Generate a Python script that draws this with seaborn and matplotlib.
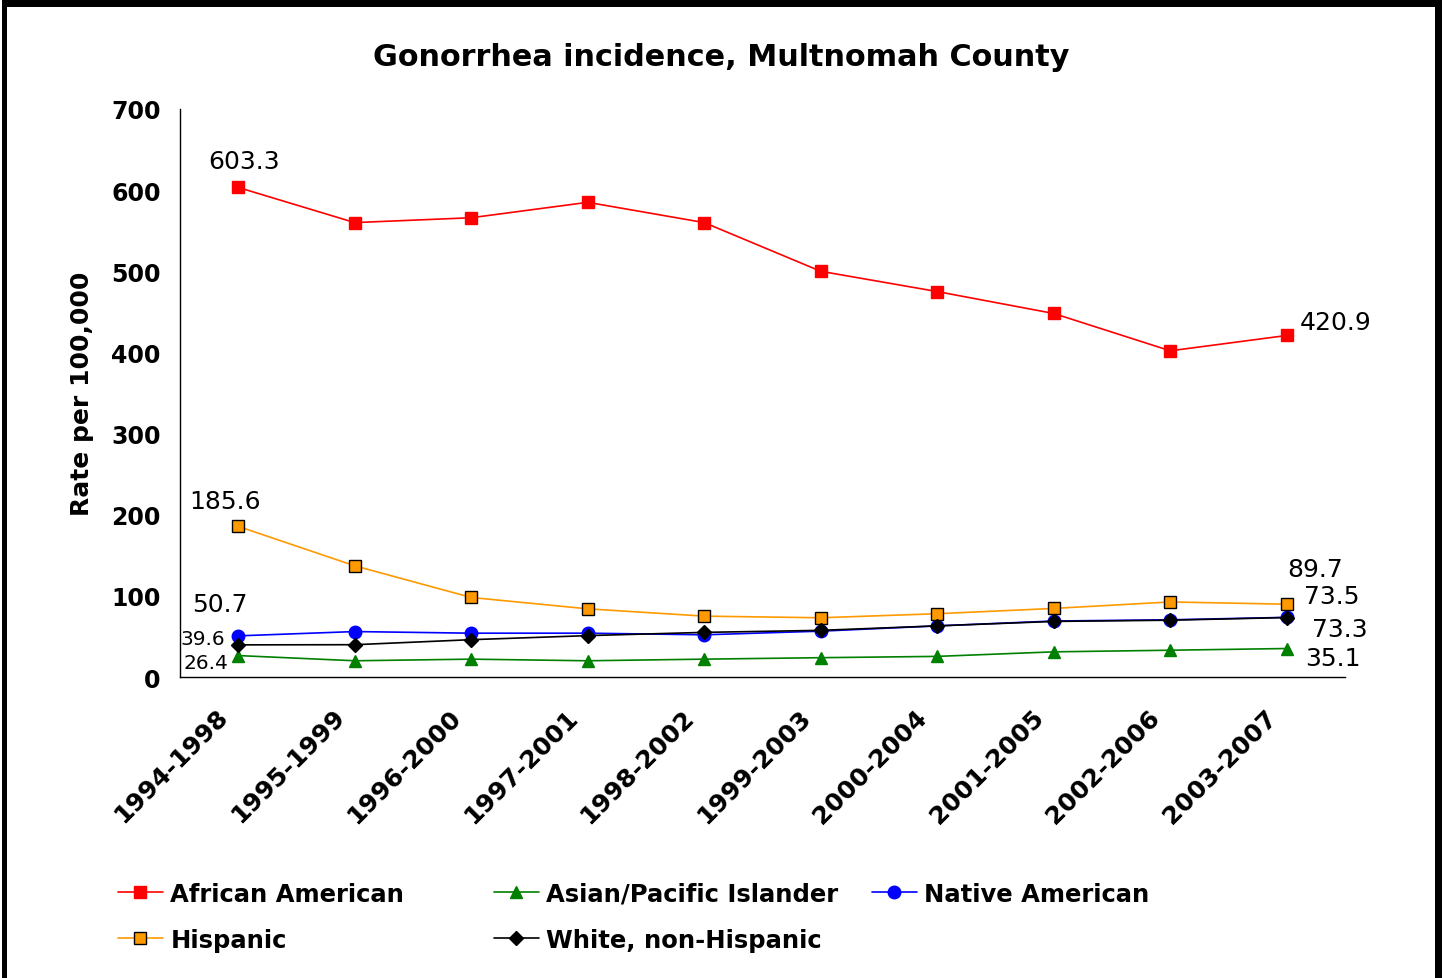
import matplotlib
matplotlib.use("Agg")
import matplotlib.pyplot as plt
import matplotlib.patches as mpatches
import matplotlib.transforms as mtransforms
import seaborn as sns
import numpy as np

periods = ["1994-1998", "1995-1999", "1996-2000", "1997-2001", "1998-2002",
           "1999-2003", "2000-2004", "2001-2005", "2002-2006", "2003-2007"]
african_american = [603.3, 560, 566, 585, 560, 500, 475, 448, 402, 420.9]
hispanic = [185.6, 137, 98, 84, 75, 73, 78, 84.5, 92.5, 89.7]
native_american = [50.7, 56, 54, 54, 52, 56.5, 63, 69, 70.5, 73.5]
white_non_hispanic = [39.6, 39.8, 46, 51, 55, 57.5, 63, 68.5, 70, 73.3]
asian_pacific = [26.4, 20, 22, 20, 22, 23.8, 25.4, 31, 33, 35.1]
y_ticks = [0, 100, 200, 300, 400, 500, 600, 700]

sns.set_style("white")
plt.rcParams['font.family'] = ['DejaVu Sans']
plt.rcParams['text.color'] = 'black'
plt.rcParams['axes.labelcolor'] = 'black'
plt.rcParams['xtick.color'] = 'black'
plt.rcParams['ytick.color'] = 'black'

W, H = 1442, 979
fig = plt.figure(figsize=(W / 100, H / 100), dpi=100)
ax = fig.add_axes([180 / W, 1 - 678 / H, (1345 - 180) / W, (678 - 110) / H])

x = np.arange(len(periods))
series = [
    ("African American", african_american, "#FF0000", "s", "#FF0000", 9),
    ("Hispanic", hispanic, "#FF9900", "s", "black", 8.5),
    ("Asian/Pacific Islander", asian_pacific, "#008000", "^", "#008000", 9),
    ("White, non-Hispanic", white_non_hispanic, "black", "D", "black", 7.5),
    ("Native American", native_american, "#0000FF", "o", "#0000FF", 9),
]
handles = {}
for name, vals, col, mk, mec, ms in series:
    sns.lineplot(x=x, y=vals, ax=ax, color=col, marker=mk, markersize=ms,
                 markeredgecolor=mec, markeredgewidth=1.0, linewidth=1.2,
                 sort=False, label=name, legend=False)
    handles[name] = ax.lines[-1]
# draw order: native under white
ax.lines[-1].set_zorder(1.9)

ax.set_xlim(-0.5, len(periods) - 0.5)
ax.set_ylim(0, 700)
ax.set_yticks(y_ticks)
ax.set_yticklabels([str(v) for v in y_ticks], fontsize=17, fontweight='bold')
ax.set_xticks(x)
ax.set_xticklabels(periods, rotation=45, ha='right', va='center',
                   rotation_mode='anchor', fontsize=18, fontweight='bold')
ax.set_xticks(np.arange(-0.5, len(periods)), minor=True)
ax.tick_params(axis='x', which='major', length=0, pad=25)
ax.tick_params(axis='x', which='minor', length=5, width=1, direction='out', color='black')
ax.tick_params(axis='y', which='major', length=5, width=1, direction='out', color='black', pad=9)
shift = mtransforms.ScaledTranslation(-14 / 100, -1 / 100, fig.dpi_scale_trans)
for lbl in ax.get_xticklabels():
    lbl.set_transform(lbl.get_transform() + shift)
for s in ['top', 'right']:
    ax.spines[s].set_visible(False)
for s in ['left', 'bottom']:
    ax.spines[s].set_color('black')
    ax.spines[s].set_linewidth(1.0)
ax.grid(False)

ax.set_ylabel("Rate per 100,000", fontsize=18, fontweight='bold')
ax.yaxis.set_label_coords(-0.074, 0.5)

fig.text(0.5, 1 - 57 / H, "Gonorrhea incidence, Multnomah County",
         ha='center', va='center', fontsize=21.8, fontweight='bold')

# data labels
def lab(vals, i, text, dx, dy, fs=18):
    ax.annotate(text, (x[i], vals[i]), xytext=(dx, dy), textcoords='offset pixels',
                ha='center', va='center', fontsize=fs)

lab(african_american, 0, "603.3", 6, 26)
lab(hispanic, 0, "185.6", -13, 25)
lab(native_american, 0, "50.7", -18, 32)
lab(white_non_hispanic, 0, "39.6", -35, 6, 14.5)
lab(asian_pacific, 0, "26.4", -32, -7, 14.5)
lab(african_american, 9, "420.9", 49, 13)
lab(hispanic, 9, "89.7", 28, 35)
lab(native_american, 9, "73.5", 45, 21)
lab(white_non_hispanic, 9, "73.3", 53, -11)
lab(asian_pacific, 9, "35.1", 46, -9)

# legend: three grid columns
cols = [(118, ["African American", "Hispanic"]),
        (494, ["Asian/Pacific Islander", "White, non-Hispanic"]),
        (872, ["Native American"])]
for xpx, names in cols:
    fig.legend([handles[n] for n in names], names, loc='upper left',
               bbox_to_anchor=(xpx / W, 1 - 883 / H), frameon=False,
               prop={'size': 17.5, 'weight': 'bold'}, borderpad=0, borderaxespad=0,
               handlelength=1.85, handletextpad=0.3, labelspacing=0.9)

# outer black frame (no bottom edge visible)
fig.add_artist(mpatches.Rectangle((2 / W, 0), 5 / W, 1, transform=fig.transFigure,
                                  color='black', lw=0))
fig.add_artist(mpatches.Rectangle((2 / W, 1 - 8 / H), 1 - 2 / W, 8 / H,
                                  transform=fig.transFigure, color='black', lw=0))
fig.add_artist(mpatches.Rectangle((1435 / W, 0), 7 / W, 1, transform=fig.transFigure,
                                  color='black', lw=0))

fig.savefig("out.png", dpi=100, facecolor='white')
